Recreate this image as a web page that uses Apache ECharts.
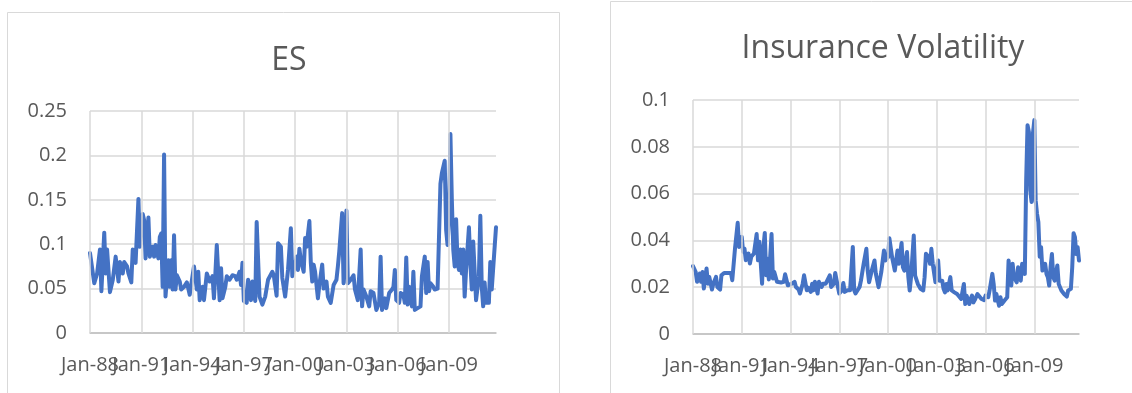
<!DOCTYPE html>
<html><head><meta charset="utf-8">
<script src="https://cdn.jsdelivr.net/npm/echarts@6/dist/echarts.min.js"></script>
<style>html,body{margin:0;padding:0;background:#fff}#c{width:1132px;height:393px}</style>
</head><body><div id="c"></div>
<script>
// month index counted from Jan-1988 (0) to Oct-2011 (285)
const lastMonth = 285;
const xTickMonths = [0, 36, 72, 108, 144, 180, 216, 252];
const xTickLabels = ['Jan-88','Jan-91','Jan-94','Jan-97','Jan-00','Jan-03','Jan-06','Jan-09'];
const esTitle = 'ES';
const insTitle = 'Insurance Volatility';

// ES: [month, value]
const esData = [
[0,0.090],[3,0.056],[5,0.067],[7,0.094],[8,0.047],[10,0.113],[11,0.067],[12,0.094],[14,0.046],[15,0.047],
[16,0.060],[18,0.086],[20,0.058],[21,0.080],[23,0.067],[24,0.080],[26,0.075],[27,0.067],[29,0.057],[30,0.094],
[32,0.079],[34,0.151],[35,0.097],[37,0.134],[38,0.127],[39,0.084],[41,0.130],[42,0.086],[44,0.097],[45,0.086],
[46,0.099],[48,0.084],[49,0.108],[50,0.112],[51,0.052],[52,0.201],[53,0.041],[55,0.082],[56,0.052],[57,0.082],
[58,0.049],[59,0.110],[60,0.049],[61,0.065],[63,0.058],[64,0.049],[66,0.052],[68,0.057],[70,0.043],[71,0.045],
[73,0.075],[75,0.049],[76,0.069],[77,0.037],[79,0.052],[80,0.037],[82,0.067],[84,0.058],[86,0.064],[87,0.039],
[88,0.067],[89,0.099],[91,0.037],[92,0.073],[93,0.039],[95,0.052],[96,0.064],[98,0.060],[100,0.065],[102,0.064],
[103,0.060],[105,0.069],[106,0.054],[107,0.079],[108,0.036],[110,0.034],[111,0.060],[113,0.037],[114,0.058],[116,0.036],
[117,0.125],[119,0.041],[121,0.032],[123,0.041],[125,0.060],[128,0.069],[129,0.065],[131,0.042],[132,0.101],[134,0.097],
[135,0.062],[137,0.041],[139,0.071],[141,0.118],[142,0.064],[144,0.077],[145,0.086],[146,0.071],[147,0.095],[148,0.082],
[150,0.069],[151,0.107],[152,0.097],[154,0.126],[155,0.079],[156,0.058],[157,0.077],[158,0.069],[160,0.039],[161,0.054],
[163,0.077],[164,0.050],[166,0.058],[167,0.041],[169,0.034],[171,0.054],[173,0.060],[174,0.075],[175,0.092],[177,0.135],
[178,0.056],[180,0.138],[181,0.056],[183,0.060],[185,0.065],[186,0.049],[188,0.037],[190,0.094],[191,0.030],[192,0.049],
[194,0.041],[196,0.030],[197,0.047],[199,0.045],[200,0.045],[201,0.026],[203,0.034],[204,0.086],[205,0.026],[207,0.039],
[208,0.028],[210,0.045],[212,0.049],[213,0.052],[214,0.071],[215,0.037],[217,0.034],[218,0.045],[220,0.043],[221,0.034],
[222,0.085],[223,0.032],[224,0.052],[226,0.030],[227,0.069],[228,0.026],[230,0.028],[232,0.030],[233,0.064],[235,0.086],
[236,0.045],[237,0.080],[238,0.047],[239,0.056],[241,0.052],[242,0.049],[244,0.050],[245,0.050],[246,0.168],[247,0.180],
[249,0.194],[250,0.116],[251,0.099],[252,0.131],[253,0.224],[254,0.150],[255,0.094],[256,0.075],[257,0.128],[258,0.079],
[259,0.071],[260,0.094],[261,0.067],[262,0.094],[263,0.041],[264,0.071],[266,0.119],[267,0.079],[268,0.049],[269,0.103],
[270,0.102],[271,0.037],[273,0.064],[274,0.132],[275,0.052],[276,0.030],[277,0.057],[278,0.034],[280,0.034],[281,0.080],
[282,0.049],[283,0.049],[285,0.119]
];

// Insurance Volatility: [month, value]
const insData = [
[0,0.0290],[2,0.0265],[3,0.0223],[5,0.0258],[6,0.0223],[7,0.0265],[8,0.0194],[10,0.0280],[11,0.0215],[12,0.0244],
[14,0.0190],[15,0.0215],[17,0.0244],[18,0.0201],[20,0.0190],[21,0.0251],[23,0.0261],[25,0.0261],[26,0.0265],[28,0.0261],
[29,0.0230],[31,0.0365],[32,0.0358],[33,0.0475],[34,0.0372],[36,0.0415],[37,0.0351],[38,0.0365],[39,0.0315],[41,0.0344],
[42,0.0301],[43,0.0330],[45,0.0344],[47,0.0427],[48,0.0315],[49,0.0394],[51,0.0215],[52,0.0372],[53,0.0432],[54,0.0251],
[55,0.0322],[56,0.0233],[58,0.0427],[59,0.0237],[60,0.0265],[62,0.0223],[63,0.0230],[65,0.0220],[67,0.0223],[68,0.0255],
[70,0.0208],[71,0.0201],[73,0.0215],[75,0.0223],[76,0.0201],[78,0.0190],[79,0.0173],[81,0.0215],[82,0.0251],[84,0.0187],
[85,0.0198],[87,0.0180],[88,0.0215],[89,0.0187],[90,0.0223],[92,0.0173],[93,0.0223],[95,0.0201],[96,0.0215],[98,0.0215],
[99,0.0223],[101,0.0251],[102,0.0201],[104,0.0215],[105,0.0261],[106,0.0230],[108,0.0173],[110,0.0187],[111,0.0218],[112,0.0180],
[114,0.0187],[116,0.0187],[118,0.0372],[119,0.0187],[120,0.0173],[121,0.0166],[123,0.0201],[124,0.0228],[126,0.0300],[128,0.0364],
[129,0.0271],[130,0.0221],[132,0.0271],[134,0.0314],[135,0.0257],[137,0.0200],[139,0.0264],[140,0.0271],[141,0.0357],[142,0.0314],
[144,0.0328],[145,0.0409],[147,0.0328],[148,0.0300],[149,0.0271],[151,0.0357],[152,0.0300],[154,0.0389],[155,0.0285],[156,0.0271],
[158,0.0350],[159,0.0243],[160,0.0186],[161,0.0243],[163,0.0421],[164,0.0250],[166,0.0214],[168,0.0193],[170,0.0186],[171,0.0243],
[172,0.0343],[174,0.0328],[175,0.0300],[176,0.0364],[177,0.0300],[179,0.0221],[180,0.0271],[181,0.0314],[182,0.0228],[184,0.0228],
[185,0.0193],[186,0.0178],[187,0.0214],[188,0.0186],[190,0.0243],[191,0.0186],[193,0.0178],[195,0.0171],[196,0.0164],[198,0.0150],
[200,0.0214],[201,0.0128],[202,0.0164],[204,0.0128],[205,0.0150],[206,0.0164],[207,0.0135],[208,0.0145],[210,0.0171],[211,0.0178],
[213,0.0150],[215,0.0145],[216,0.0164],[218,0.0157],[219,0.0186],[221,0.0257],[222,0.0214],[223,0.0143],[224,0.0171],[226,0.0121],
[227,0.0157],[228,0.0128],[230,0.0143],[232,0.0157],[233,0.0314],[235,0.0207],[236,0.0300],[237,0.0243],[239,0.0221],[240,0.0285],
[241,0.0243],[242,0.0228],[243,0.0300],[245,0.0257],[246,0.0657],[247,0.0892],[248,0.0864],[249,0.0614],[250,0.0564],[251,0.0857],
[252,0.0914],[253,0.0571],[254,0.0514],[255,0.0478],[256,0.0330],[257,0.0371],[258,0.0271],[259,0.0264],[260,0.0300],[261,0.0257],
[262,0.0243],[263,0.0207],[264,0.0285],[265,0.0342],[266,0.0243],[267,0.0228],[269,0.0293],[270,0.0214],[272,0.0186],[273,0.0193],
[274,0.0171],[276,0.0160],[277,0.0186],[278,0.0178],[279,0.0193],[280,0.0285],[281,0.0431],[282,0.0414],[283,0.0342],[284,0.0371],
[285,0.0314]
];

const FONT = '"Open Sans", "Noto Sans", sans-serif';
const TXT = '#595959';
const GRIDC = '#d9d9d9';
const LINE = '#4472C4';

// two bottom x axes per grid (same scale): alternate labels, so every label is kept even where neighbours overlap
function xAxisFor(gi, parity) {
  const vals = xTickMonths.filter((m, i) => i % 2 === parity);
  return {
    type: 'value', gridIndex: gi, position: 'bottom', offset: 0, min: 0, max: lastMonth,
    axisLine: { show: parity === 0, lineStyle: { color: '#bfbfbf', width: 1.5 } },
    axisTick: { show: false, customValues: vals },
    axisLabel: {
      customValues: vals, showMinLabel: true, showMaxLabel: true,
      color: TXT, fontFamily: FONT, fontSize: 20, margin: 22,
      formatter: v => { const i = xTickMonths.indexOf(v); return i >= 0 ? xTickLabels[i] : ''; }
    },
    splitLine: { show: false }
  };
}
function yAxisFor(gi, max, interval) {
  return {
    type: 'value', gridIndex: gi, min: 0, max: max, interval: interval,
    axisLine: { show: false }, axisTick: { show: false },
    axisLabel: { color: TXT, fontFamily: FONT, fontSize: 20, margin: 23 },
    splitLine: { show: true, lineStyle: { color: GRIDC, width: 1.5 } }
  };
}
// vertical gridlines at the labelled months, drawn through the axis scale
function vGridSeries(xi, yi) {
  return {
    type: 'line', xAxisIndex: xi, yAxisIndex: yi, data: [], z: 1, silent: true,
    markLine: {
      silent: true, animation: false, symbol: ['none', 'none'],
      label: { show: false }, emphasis: { disabled: true },
      lineStyle: { color: GRIDC, width: 1.5, type: 'solid' },
      data: xTickMonths.map(m => ({ xAxis: m }))
    }
  };
}

const chart = echarts.init(document.getElementById('c'), null, { renderer: 'canvas' });
chart.setOption({
  animation: false,
  backgroundColor: '#fff',
  graphic: [
    { type: 'rect', shape: { x: 7.5, y: 12.5, width: 552, height: 400 }, style: { fill: 'none', stroke: '#d9d9d9', lineWidth: 1 }, silent: true },
    { type: 'rect', shape: { x: 610.5, y: 1.5, width: 600, height: 420 }, style: { fill: 'none', stroke: '#d9d9d9', lineWidth: 1 }, silent: true }
  ],
  title: [
    { text: esTitle, left: 284, top: 40, textAlign: 'center',
      textStyle: { color: TXT, fontFamily: FONT, fontSize: 32, fontWeight: 'normal' } },
    { text: insTitle, left: 878, top: 28, textAlign: 'center',
      textStyle: { color: TXT, fontFamily: FONT, fontSize: 32, fontWeight: 'normal' } }
  ],
  grid: [
    { left: 90, top: 111, width: 406, height: 222 },
    { left: 693, top: 100, width: 386, height: 234 }
  ],
  xAxis: [xAxisFor(0, 0), xAxisFor(0, 1), xAxisFor(1, 0), xAxisFor(1, 1)],
  yAxis: [yAxisFor(0, 0.25, 0.05), yAxisFor(1, 0.1, 0.02)],
  series: [
    vGridSeries(0, 0),
    vGridSeries(2, 1),
    { type: 'line', xAxisIndex: 0, yAxisIndex: 0, data: esData, showSymbol: false, z: 3,
      lineStyle: { color: LINE, width: 4, join: 'round', cap: 'round' }, itemStyle: { color: LINE } },
    { type: 'line', xAxisIndex: 2, yAxisIndex: 1, data: insData, showSymbol: false, z: 3,
      lineStyle: { color: LINE, width: 4, join: 'round', cap: 'round' }, itemStyle: { color: LINE } }
  ]
});
</script>
</body></html>
